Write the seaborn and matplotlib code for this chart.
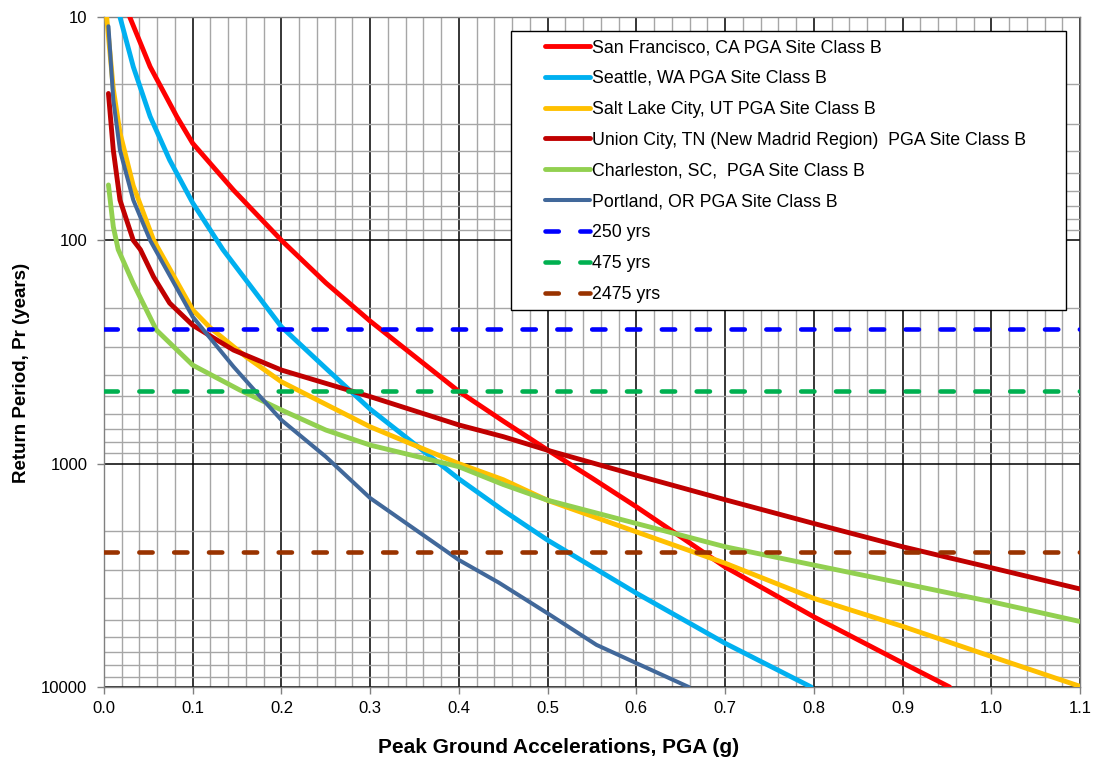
import numpy as np
import pandas as pd
import seaborn as sns
import matplotlib.pyplot as plt
from matplotlib.patches import Rectangle
from matplotlib.ticker import MultipleLocator, LogLocator, FixedLocator, FuncFormatter, NullFormatter

# hazard curves: PGA (g) vs return period (years)
sf_pga = [0.029, 0.052, 0.082, 0.1, 0.146, 0.2, 0.25, 0.3, 0.4, 0.45, 0.5, 0.55, 0.6, 0.7, 0.8, 0.9, 0.953]
sf_rp = [10, 16.7, 27.9, 36.8, 59.6, 100, 155, 230, 475, 645, 869, 1160, 1560, 2900, 4850, 7800, 10000]

sea_pga = [0.018, 0.033, 0.052, 0.074, 0.1, 0.134, 0.2, 0.25, 0.3, 0.4, 0.45, 0.5, 0.6, 0.7, 0.797]
sea_rp = [10, 16.7, 27.9, 43.7, 68, 110, 244, 374, 570, 1170, 1620, 2200, 3800, 6370, 10000]

slc_pga = [0.003, 0.0105, 0.018, 0.033, 0.056, 0.1, 0.12, 0.16, 0.2, 0.3, 0.4, 0.45, 0.5, 0.6, 0.7, 0.8, 0.9, 1.0, 1.1]
slc_rp = [10, 21, 33, 57, 100, 205, 247, 332, 430, 684, 1000, 1180, 1460, 2020, 2790, 4010, 5350, 7300, 9930]

uc_pga = [0.005, 0.0105, 0.018, 0.033, 0.041, 0.056, 0.074, 0.1, 0.146, 0.2, 0.3, 0.4, 0.45, 0.5, 0.6, 0.7, 0.8, 0.9, 1.0, 1.1]
uc_rp = [22, 39.5, 66, 100, 110, 146, 191, 240, 310, 381, 501, 671, 757, 871, 1127, 1450, 1853, 2355, 2924, 3640]

chs_pga = [0.005, 0.0105, 0.016, 0.033, 0.059, 0.1, 0.153, 0.2, 0.25, 0.3, 0.4, 0.45, 0.5, 0.6, 0.7, 0.8, 0.9, 1.0, 1.1]
chs_rp = [56.5, 87, 110, 156, 252, 362, 468, 575, 707, 826, 1032, 1240, 1458, 1853, 2355, 2845, 3435, 4150, 5090]

pdx_pga = [0.005, 0.0105, 0.018, 0.033, 0.052, 0.1, 0.146, 0.176, 0.2, 0.25, 0.3, 0.4, 0.445, 0.5, 0.555, 0.6, 0.659]
pdx_rp = [11, 23.5, 39.5, 66, 100, 220, 368, 501, 638, 931, 1426, 2700, 3410, 4680, 6475, 7820, 10000]

names = ["San Francisco, CA PGA Site Class B",
         "Seattle, WA PGA Site Class B",
         "Salt Lake City, UT PGA Site Class B",
         "Union City, TN (New Madrid Region)  PGA Site Class B",
         "Charleston, SC,  PGA Site Class B",
         "Portland, OR PGA Site Class B"]
colors = ["#FF0000", "#00B0F0", "#FFC000", "#C00000", "#92D050", "#41689A"]

return_periods = [250, 475, 2475]
rp_colors = ["#0000FF", "#00B050", "#993300"]

curves = [(sf_pga, sf_rp), (sea_pga, sea_rp), (slc_pga, slc_rp),
          (uc_pga, uc_rp), (chs_pga, chs_rp), (pdx_pga, pdx_rp)]

sns.set_style("white")
plt.rcParams['font.family'] = ['Liberation Sans', 'DejaVu Sans']
plt.rcParams.update({"text.color": "black", "axes.labelcolor": "black",
                     "xtick.color": "black", "ytick.color": "black"})

fig, ax = plt.subplots(figsize=(10.95, 7.58), dpi=100)
fig.subplots_adjust(left=104/1095, right=1080/1095, top=1-17/758, bottom=1-687/758)

for name, (x, y), c in zip(names, curves, colors):
    lw = 2.9 if c == "#41689A" else 3.5
    sns.lineplot(x=x, y=y, color=c, lw=lw, label=name, ax=ax,
                 estimator=None, sort=False, zorder=3)

for yrs, c in zip(return_periods, rp_colors):
    ax.axhline(yrs, color=c, lw=3.3, ls=(0, (2.9, 4.7)), dash_capstyle="round",
               label=f"{yrs} yrs", zorder=3)

ax.set_yscale("log")
ax.set_ylim(10000, 10)
ax.set_xlim(0, 1.1)

ax.xaxis.set_major_locator(MultipleLocator(0.1))
ax.xaxis.set_minor_locator(MultipleLocator(0.02))
ax.xaxis.set_major_formatter(FuncFormatter(lambda v, p: f"{v:.1f}"))
ax.yaxis.set_major_locator(FixedLocator([10, 100, 1000, 10000]))
ax.yaxis.set_minor_locator(LogLocator(base=10, subs=range(2, 10)))
ax.yaxis.set_major_formatter(FuncFormatter(lambda v, p: f"{v:g}"))
ax.yaxis.set_minor_formatter(NullFormatter())

ax.set_axisbelow(True)
ax.grid(which="minor", color="#a6a6a6", lw=1)
ax.grid(which="major", color="black", lw=1.1)
ax.tick_params(which="major", direction="out", length=5, width=1, color="#808080",
               labelcolor="black", labelsize=12, bottom=True, left=True, pad=5)
ax.tick_params(axis="y", pad=7)
ax.tick_params(which="minor", length=0)
for s in ax.spines.values():
    s.set_color("#808080")
    s.set_linewidth(1)

ax.set_xlabel("Peak Ground Accelerations, PGA (g)", fontsize=15, fontweight="bold",
              labelpad=16, x=0.466)
ax.set_ylabel("Return Period, Pr (years)", fontsize=13.5, fontweight="bold",
              labelpad=8, y=0.469)

# legend frame drawn separately so the left padding can be wider than the top
ax.add_patch(Rectangle((0.417, 0.563), 0.569, 0.416, transform=ax.transAxes,
                       facecolor="white", edgecolor="black", lw=1, zorder=4))
leg = ax.legend(loc="upper left", bbox_to_anchor=(0.452, 0.967), frameon=False,
                fontsize=12.8, handlelength=2.53, handletextpad=0.1, labelspacing=0.78,
                borderpad=0, borderaxespad=0, labelcolor="black")
leg.set_zorder(5)

plt.savefig("out.png", dpi=100)
plt.close()
